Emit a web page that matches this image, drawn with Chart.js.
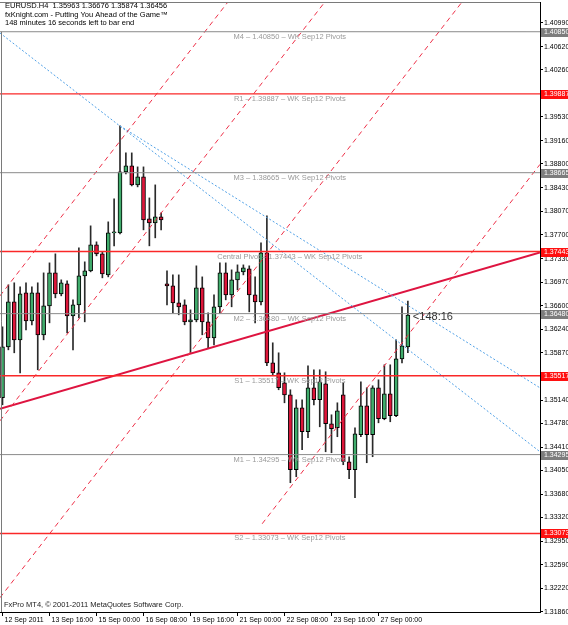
<!DOCTYPE html>
<html>
<head>
<meta charset="utf-8">
<script src="https://cdn.jsdelivr.net/npm/chart.js@4.4.0/dist/chart.umd.min.js"></script>
<style>
  html, body { margin: 0; padding: 0; background: #fff; }
  #wrap { width: 568px; height: 625px; }
</style>
</head>
<body>
<div id="wrap"><canvas id="chart" width="568" height="625"></canvas></div>
<script>
'use strict';
//___________BAR TIMES (H4)__________________
var timeTickIndex = [0, 8, 16, 24, 32, 40, 48, 56, 64];
var timeTickText = ['12 Sep 2011', '13 Sep 16:00', '15 Sep 00:00', '16 Sep 08:00', '19 Sep 16:00',
  '21 Sep 00:00', '22 Sep 08:00', '23 Sep 16:00', '27 Sep 00:00'];

//___________EURUSD H4 CANDLES__________________
var opens = [1.35176, 1.35966, 1.36663, 1.36074, 1.36803, 1.36369, 1.36803, 1.36152, 1.36601, 1.37112,
  1.36787, 1.36942, 1.36446, 1.36617, 1.37066, 1.37143, 1.37546, 1.37407, 1.37081, 1.37732,
  1.37732, 1.38677, 1.38770, 1.38476, 1.38600, 1.37949, 1.37887, 1.37980, 1.36942, 1.36911,
  1.36648, 1.36617, 1.36353, 1.36384, 1.36880, 1.36353, 1.36105, 1.36586, 1.37112, 1.36772,
  1.37004, 1.37128, 1.37174, 1.36772, 1.36663, 1.37422, 1.35718, 1.35563, 1.35408, 1.35222,
  1.34060, 1.35021, 1.34649, 1.35331, 1.35145, 1.35393, 1.34773, 1.34711, 1.35222, 1.34184,
  1.34060, 1.34602, 1.35052, 1.34602, 1.35331, 1.34850, 1.35238, 1.34897, 1.35780, 1.35963];
var highs = [1.36276, 1.36927, 1.36958, 1.36896, 1.36958, 1.36896, 1.36958, 1.37112, 1.37267, 1.37407,
  1.37004, 1.36989, 1.36694, 1.37500, 1.37283, 1.37841, 1.37593, 1.37438, 1.37903, 1.38259,
  1.39390, 1.38972, 1.38972, 1.38755, 1.38755, 1.38274, 1.38476, 1.38042, 1.37143, 1.37081,
  1.37081, 1.36694, 1.36539, 1.37221, 1.37050, 1.36493, 1.36772, 1.37267, 1.37267, 1.37159,
  1.37236, 1.37236, 1.37221, 1.37050, 1.37577, 1.37996, 1.36028, 1.35873, 1.35563, 1.35300,
  1.35145, 1.35145, 1.35672, 1.35610, 1.35610, 1.35579, 1.34912, 1.35098, 1.35408, 1.34262,
  1.34711, 1.35424, 1.35331, 1.35362, 1.35455, 1.35687, 1.35687, 1.36074, 1.36586, 1.36676];
var lows = [1.35067, 1.35919, 1.35873, 1.35563, 1.36229, 1.36307, 1.35610, 1.36074, 1.36338, 1.36725,
  1.36756, 1.36183, 1.35919, 1.36415, 1.36353, 1.37128, 1.37376, 1.37035, 1.37050, 1.37531,
  1.37717, 1.38646, 1.38460, 1.38445, 1.37779, 1.37531, 1.37655, 1.37779, 1.36617, 1.36493,
  1.36462, 1.36307, 1.35873, 1.36353, 1.36152, 1.35950, 1.35997, 1.36493, 1.36694, 1.36586,
  1.36849, 1.37081, 1.36508, 1.36338, 1.36617, 1.35672, 1.35532, 1.35300, 1.35098, 1.33859,
  1.33952, 1.34370, 1.34556, 1.35067, 1.34726, 1.34339, 1.34324, 1.34572, 1.34138, 1.33921,
  1.33627, 1.34572, 1.34169, 1.34262, 1.34788, 1.34835, 1.34804, 1.34881, 1.35718, 1.35874];
var closes = [1.35966, 1.36663, 1.36074, 1.36787, 1.36369, 1.36803, 1.36152, 1.36601, 1.37112, 1.36787,
  1.36958, 1.36446, 1.36617, 1.37066, 1.37143, 1.37546, 1.37407, 1.37097, 1.37732, 1.37748,
  1.38677, 1.38770, 1.38476, 1.38600, 1.37934, 1.37887, 1.37980, 1.37934, 1.36911, 1.36648,
  1.36586, 1.36353, 1.36384, 1.36880, 1.36353, 1.36105, 1.36586, 1.37112, 1.36772, 1.37004,
  1.37128, 1.37190, 1.36772, 1.36663, 1.37422, 1.35718, 1.35563, 1.35331, 1.35222, 1.34060,
  1.35021, 1.34649, 1.35331, 1.35145, 1.35424, 1.34773, 1.34695, 1.34974, 1.34184, 1.34060,
  1.34618, 1.35052, 1.34602, 1.35331, 1.34850, 1.35238, 1.34897, 1.35780, 1.35981, 1.36456];

//___________PRICE SCALE__________________
var priceTicks = [1.40990, 1.40620, 1.40260, 1.39890, 1.39530, 1.39160, 1.38800, 1.38430, 1.38070,
  1.37700, 1.37330, 1.36970, 1.36600, 1.36240, 1.35870, 1.35510, 1.35140, 1.34780, 1.34410,
  1.34050, 1.33680, 1.33320, 1.32950, 1.32590, 1.32220, 1.31860];
var priceMin = 1.31855;
var priceMax = 1.41311;
var barMin = -0.4255;
var barMax = 91.49;

//___________WEEKLY PIVOTS__________________
var pivotNames = ['M4', 'R1', 'M3', 'Central Pivot', 'M2', 'S1', 'M1', 'S2'];
var pivotValues = [1.40850, 1.39887, 1.38665, 1.37443, 1.36480, 1.35517, 1.34295, 1.33073];

//___________TREND LINES (start bar/price -> price at right edge)__________________
var trendLeft = 1.35005;
var trendRight = 1.37430;
var channelStartBar = [-0.4255, -0.4255, -0.4255, 44.2];
var channelStartPrice = [1.36756, 1.34819, 1.32077, 1.33223];
var channelEndPrice = [1.47548, 1.45611, 1.42869, 1.38794];
var blueStartBar = [-0.4255, 20];
var blueStartPrice = [1.40830, 1.39390];
var blueEndPrice = [1.34339, 1.35330];

var headerLines = ['EURUSD.H4  1.35963 1.36676 1.35874 1.36456',
  'fxKnight.com - Putting You Ahead of the Game\u2122',
  '148 minutes 16 seconds left to bar end'];
var countdownText = '<148:16';

//___________BUILD DATASETS__________________
var wickData = [], bodyData = [], bodyColor = [];
for (var i = 0; i < opens.length; i++) {
  wickData.push({x: i, y: [lows[i], highs[i]]});
  bodyData.push({x: i, y: [opens[i], closes[i]]});
  bodyColor.push(closes[i] >= opens[i] ? 'rgb(64,172,108)' : 'rgb(222,22,58)');
}

function lineSet(x0, y0, x1, y1, color, width, dash) {
  return {
    type: 'line',
    data: [{x: x0, y: y0}, {x: x1, y: y1}],
    borderColor: color,
    borderWidth: width,
    borderDash: dash,
    pointRadius: 0,
    fill: false,
    clip: 0,
    order: 1
  };
}

var datasets = [
  {type: 'bar', data: wickData, backgroundColor: '#2a2a2a', barThickness: 1, grouped: false, order: 3},
  {type: 'bar', data: bodyData, backgroundColor: bodyColor, borderColor: '#000', borderWidth: 1,
    borderSkipped: false, barThickness: 4, minBarLength: 1, grouped: false, order: 2}
];
for (var p = 0; p < pivotValues.length; p++) {
  var isM = pivotNames[p].charAt(0) === 'M';
  datasets.push(lineSet(barMin, pivotValues[p], barMax, pivotValues[p],
    isM ? '#8a8a8a' : 'rgb(250,40,40)', isM ? 1 : 1.4, []));
}
for (var c = 0; c < channelStartBar.length; c++) {
  datasets.push(lineSet(channelStartBar[c], channelStartPrice[c], barMax, channelEndPrice[c], 'rgb(238,48,72)', 1, [5, 4]));
}
for (var b = 0; b < blueStartBar.length; b++) {
  datasets.push(lineSet(blueStartBar[b], blueStartPrice[b], barMax, blueEndPrice[b], 'rgb(80,160,230)', 1, [2, 2]));
}
datasets.push(lineSet(barMin, trendLeft, barMax, trendRight, 'rgb(222,20,64)', 2, []));

//___________TEXT + AXIS LABEL BOXES_________________________________
var FONT = '"Liberation Sans", Arial, sans-serif';
var overlay = {
  id: 'overlay',
  afterDatasetsDraw: function(chart) {
    var ctx = chart.ctx, xs = chart.scales.x, ys = chart.scales.y, area = chart.chartArea;
    ctx.save();
    ctx.strokeStyle = '#7a7a7a';
    ctx.lineWidth = 1;
    ctx.beginPath();
    ctx.moveTo(area.left, area.top + 0.5);
    ctx.lineTo(area.right, area.top + 0.5);
    ctx.moveTo(area.left + 1.5, ys.getPixelForValue(pivotValues[0]));
    ctx.lineTo(area.left + 1.5, area.bottom);
    ctx.stroke();

    ctx.font = '7.5px ' + FONT;
    ctx.fillStyle = '#9a9a9a';
    ctx.textAlign = 'center';
    ctx.textBaseline = 'middle';
    for (var i = 0; i < pivotValues.length; i++) {
      ctx.fillText(pivotNames[i] + ' \u2013 ' + pivotValues[i].toFixed(5) + ' \u2013 WK Sep12 Pivots',
        xs.getPixelForValue(48.9), ys.getPixelForValue(pivotValues[i]) + 5);
    }

    var last = closes.length - 1;
    ctx.font = '11px ' + FONT;
    ctx.fillStyle = '#333';
    ctx.textAlign = 'left';
    ctx.fillText(countdownText, xs.getPixelForValue(last) + 5, ys.getPixelForValue(closes[last]) + 2);

    ctx.font = '7.5px ' + FONT;
    ctx.fillStyle = '#000';
    for (var h = 0; h < headerLines.length; h++) {
      ctx.fillText(headerLines[h], 5, 6 + h * 8.5);
    }
    ctx.fillStyle = '#222';
    ctx.fillText('FxPro MT4, \u00a9 2001-2011 MetaQuotes Software Corp.', 4, 605);
    ctx.restore();
  },
  afterDraw: function(chart) {
    var ctx = chart.ctx, ys = chart.scales.y, area = chart.chartArea;
    ctx.save();
    ctx.font = '7px ' + FONT;
    ctx.textAlign = 'left';
    ctx.textBaseline = 'middle';
    for (var i = 0; i < pivotValues.length; i++) {
      var y = Math.round(ys.getPixelForValue(pivotValues[i]));
      var isM = pivotNames[i].charAt(0) === 'M';
      ctx.fillStyle = isM ? '#7d7d7d' : '#ff1010';
      ctx.fillRect(area.right + 1, y - 4, 30, 9);
      ctx.fillStyle = '#fff';
      ctx.fillText(pivotValues[i].toFixed(5), area.right + 4, y + 0.5);
    }
    ctx.restore();
  }
};

var ctx = document.getElementById('chart').getContext('2d');
new Chart(ctx, {
  type: 'bar',
  data: {datasets: datasets},
  options: {
    responsive: false,
    animation: false,
    events: [],
    layout: {autoPadding: false, padding: {top: 2, left: 0, right: 0, bottom: 0}},
    plugins: {legend: {display: false}, tooltip: {enabled: false}},
    scales: {
      x: {
        type: 'linear',
        offset: false,
        min: barMin,
        max: barMax,
        afterBuildTicks: function(scale) {
          scale.ticks = timeTickIndex.map(function(v) { return {value: v}; });
        },
        afterFit: function(scale) {
          scale.height = 13;
          scale.paddingLeft = 0;
          scale.paddingRight = 0;
        },
        ticks: {
          autoSkip: false,
          maxRotation: 0,
          minRotation: 0,
          align: 'start',
          labelOffset: 2,
          padding: 0,
          color: '#000',
          font: {family: FONT, size: 7},
          callback: function(v) { return timeTickText[timeTickIndex.indexOf(v)]; }
        },
        grid: {offset: false, drawOnChartArea: false, tickLength: 4, color: '#000'},
        border: {display: true, color: '#000'}
      },
      y: {
        type: 'linear',
        position: 'right',
        min: priceMin,
        max: priceMax,
        afterBuildTicks: function(scale) {
          scale.ticks = priceTicks.map(function(v) { return {value: v}; });
        },
        afterFit: function(scale) {
          scale.width = 28;
          scale.paddingTop = 0;
          scale.paddingBottom = 0;
        },
        ticks: {
          autoSkip: false,
          padding: 1,
          color: '#000',
          font: {family: FONT, size: 7},
          callback: function(v) { return v.toFixed(5); }
        },
        grid: {drawOnChartArea: false, tickLength: 3, color: '#000'},
        border: {display: true, color: '#000'}
      }
    }
  },
  plugins: [overlay]
});
</script>
</body>
</html>
